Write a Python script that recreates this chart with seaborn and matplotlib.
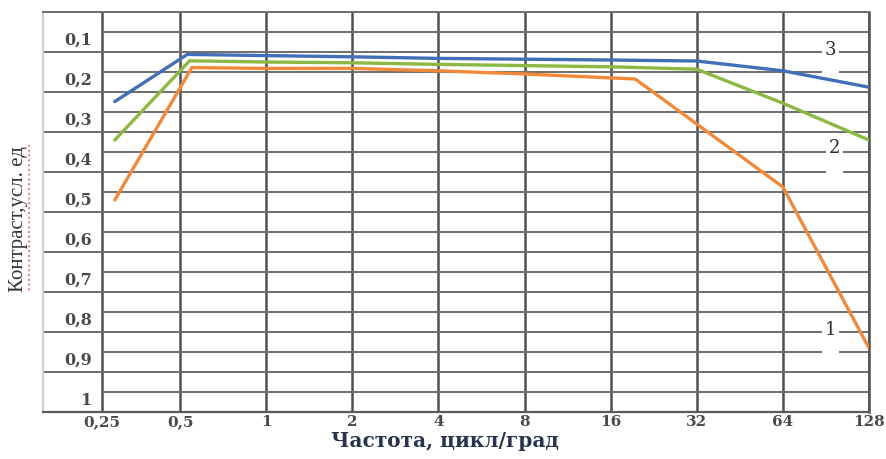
import numpy as np
import pandas as pd
import matplotlib
matplotlib.use("Agg")
import matplotlib.pyplot as plt
from matplotlib.lines import Line2D
from matplotlib.ticker import FixedLocator, NullLocator
import seaborn as sns

# ---- data ----
freq_ticks = [0.25, 0.5, 1, 2, 4, 8, 16, 32, 64, 128]
freq_tick_labels = ["0,25", "0,5", "1", "2", "4", "8", "16", "32", "64", "128"]
contrast_ticks = [0.1, 0.2, 0.3, 0.4, 0.5, 0.6, 0.7, 0.8, 0.9, 1.0]
contrast_tick_labels = ["0,1", "0,2", "0,3", "0,4", "0,5", "0,6", "0,7", "0,8", "0,9", "1"]

x_curve1 = [0.28, 0.55, 1, 2, 4, 8, 19.5, 32, 64, 128]
y_curve1 = [0.47, 0.139, 0.141, 0.141, 0.147, 0.155, 0.1675, 0.28, 0.4375, 0.84]
x_curve2 = [0.28, 0.54, 1, 2, 4, 8, 16, 32, 64, 128]
y_curve2 = [0.32, 0.122, 0.125, 0.127, 0.131, 0.134, 0.137, 0.143, 0.228, 0.32]
x_curve3 = [0.28, 0.53, 1, 2, 4, 8, 16, 32, 64, 128]
y_curve3 = [0.224, 0.106, 0.109, 0.112, 0.116, 0.118, 0.120, 0.1225, 0.147, 0.188]
curve_names = ["1", "2", "3"]
curve_colors = ["#F08A3A", "#8DB843", "#4170B8"]

df = pd.concat([
    pd.DataFrame({"freq": x_curve1, "contrast": y_curve1, "curve": "1"}),
    pd.DataFrame({"freq": x_curve2, "contrast": y_curve2, "curve": "2"}),
    pd.DataFrame({"freq": x_curve3, "contrast": y_curve3, "curve": "3"}),
], ignore_index=True)

sns.set_style("white")
plt.rcParams["font.family"] = ["DejaVu Serif", "DejaVu Sans"]

W, H = 887, 459
fig = plt.figure(figsize=(W / 100, H / 100), dpi=100)
ax = fig.add_axes([43 / W, 1 - 412 / H, (869 - 43) / W, (412 - 12) / H])

sns.lineplot(data=df, x="freq", y="contrast", hue="curve", hue_order=curve_names,
             palette=dict(zip(curve_names, curve_colors)), estimator=None, sort=False,
             legend=False, lw=2.4, ax=ax, zorder=5)

# octave scale, first octave slightly compressed as in the original
RATIO = 0.906

def fwd(x):
    with np.errstate(divide="ignore", invalid="ignore"):
        l = np.log2(np.maximum(np.asarray(x, dtype=float), 1e-12))
    return np.where(l < -1, -1 - (-1 - l) * RATIO, l)

def inv(s):
    s = np.asarray(s, dtype=float)
    return np.where(s < -1, 2.0 ** (-1 - (-1 - s) / RATIO), 2.0 ** s)

ax.set_xscale("function", functions=(fwd, inv))
s_left = -1 - RATIO - 59 / 86.1
ax.set_xlim(float(inv(s_left)), 128)
ax.set_ylim(1.0, 0.0)

ax.xaxis.set_major_locator(FixedLocator(freq_ticks))
ax.xaxis.set_minor_locator(NullLocator())
ax.set_xticklabels(freq_tick_labels)
ax.yaxis.set_major_locator(FixedLocator(contrast_ticks))
ax.yaxis.set_minor_locator(NullLocator())
ax.set_yticklabels([])
ax.tick_params(axis="both", length=0)
ax.tick_params(axis="x", pad=2, labelsize=11, labelcolor="#4a4a4a")
for t in ax.get_xticklabels():
    t.set_fontweight("bold")

# grid
ax.grid(axis="x", color="#505050", lw=1.8, zorder=1)
ax.grid(axis="y", color="#6e6e6e", lw=1.4, zorder=1)
minor_y = [0.05 + 0.1 * i for i in range(10)]
ax.hlines(minor_y, 0.25, 128, color="#6e6e6e", lw=1.4, zorder=1)
ax.set_axisbelow(True)

for side in ["top", "right", "bottom", "left"]:
    ax.spines[side].set_visible(True)
ax.spines["left"].set_color("#c9d2dc")
ax.spines["left"].set_linewidth(1.6)
ax.spines["top"].set_color("#6e6e6e")
ax.spines["top"].set_linewidth(1.4)
ax.spines["right"].set_color("#505050")
ax.spines["right"].set_linewidth(1.8)
ax.spines["bottom"].set_color("#5a5a5a")
ax.spines["bottom"].set_linewidth(1.6)

# y tick labels sit just above their lines
for v, lab in zip(contrast_ticks, contrast_tick_labels):
    ax.annotate(lab, xy=(0.0593, v), xycoords=("axes fraction", "data"),
                xytext=(0, 2.5), textcoords="offset points", ha="right", va="bottom",
                fontsize=11.5, fontweight="bold", color="#4a4a4a")

# curve numbers with white boxes
label_pos = {"3": (93.6, 0.072), "2": (97.0, 0.318), "1": (93.6, 0.772)}
for name in curve_names:
    xx, yy = label_pos[name]
    ax.text(xx, yy, name + "\n ", ha="center", va="top", fontsize=13, color="#2e2e2e",
            linespacing=1.15, zorder=3,
            bbox=dict(boxstyle="square,pad=0.15", fc="white", ec="none"))

ax.set_xlabel("")
ax.set_ylabel("")
fig.text(445 / W, 1 - 441 / H, "Частота, цикл/град", ha="center", va="center",
         fontsize=14.5, fontweight="bold", color="#27344f")
fig.text(19 / W, 1 - 219 / H, "Контраст,усл. ед", ha="center", va="center", rotation=90,
         fontsize=15, color="#333333", family=["Liberation Serif", "DejaVu Serif"])
fig.add_artist(Line2D([29 / W, 29 / W], [1 - 145 / H, 1 - 291 / H], transform=fig.transFigure,
                      color="#e04040", lw=1.3, ls=":", alpha=0.8))

fig.savefig("out.png", dpi=100)
